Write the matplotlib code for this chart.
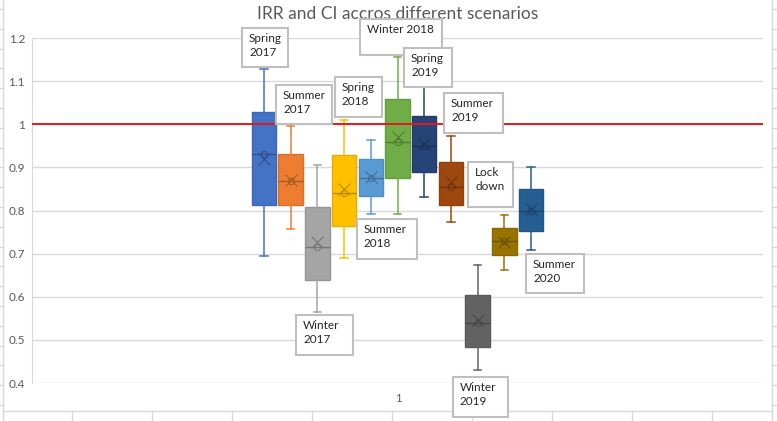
import numpy as np
import matplotlib
matplotlib.use("Agg")
import matplotlib.pyplot as plt
from matplotlib.patches import Rectangle
from matplotlib.lines import Line2D
from matplotlib.colors import to_rgb

plt.rcParams["font.family"] = ["Lato", "DejaVu Sans"]

W, H = 777, 421

# ---------------------------------------------------------------- data
scenarios = ["Spring 2017", "Summer 2017", "Winter 2017", "Spring 2018",
             "Summer 2018", "Winter 2018", "Spring 2019", "Summer 2019",
             "Winter 2019", "Lock down", "Summer 2020"]
whis_lo = [0.694, 0.756, 0.564, 0.691, 0.791, 0.793, 0.831, 0.773, 0.429, 0.661, 0.708]
q1      = [0.812, 0.812, 0.638, 0.763, 0.833, 0.875, 0.889, 0.812, 0.483, 0.696, 0.752]
median  = [0.930, 0.868, 0.715, 0.840, 0.875, 0.958, 0.949, 0.854, 0.538, 0.729, 0.800]
q3      = [1.028, 0.930, 0.807, 0.928, 0.919, 1.058, 1.019, 0.912, 0.605, 0.759, 0.851]
whis_hi = [1.128, 0.995, 0.905, 1.010, 0.963, 1.155, 1.086, 0.972, 0.673, 0.789, 0.900]
mean    = [0.919, 0.870, 0.726, 0.849, 0.877, 0.970, 0.954, 0.865, 0.545, 0.726, 0.803]
colors  = ["#4472C4", "#ED7D31", "#A5A5A5", "#FFC000", "#5B9BD5", "#70AD47",
           "#264478", "#9E480E", "#636363", "#997300", "#255E91"]
threshold = 1.0
category = "1"
y_ticks = [0.4, 0.5, 0.6, 0.7, 0.8, 0.9, 1.0, 1.1, 1.2]
y_labels = ["0.4", "0.5", "0.6", "0.7", "0.8", "0.9", "1", "1.1", "1.2"]

# callout labels: text, box in pixel coords (x0, y0, x1, y1)
callouts = [
    ("Spring\n2017", (242, 28, 288, 67)),
    ("Summer\n2017", (276, 85, 332, 124)),
    ("Winter\n2017", (296, 315, 353, 355)),
    ("Spring\n2018", (335, 77, 382, 117)),
    ("Summer\n2018", (357, 219, 417, 259)),
    ("Winter 2018", (360, 19, 442, 55)),
    ("Spring\n2019", (404, 48, 452, 87)),
    ("Summer\n2019", (444, 93, 503, 133)),
    ("Winter\n2019", (453, 377, 508, 417)),
    ("Lock\ndown", (468, 162, 513, 207)),
    ("Summer\n2020", (526, 254, 584, 293)),
]


def px(x, y):
    return x / W, 1 - y / H


def shade(c, f):
    r, g, b = to_rgb(c)
    return (r * f, g * f, b * f)


fig = plt.figure(figsize=(W / 100, H / 100), dpi=100)
fig.patch.set_facecolor("white")

# outer chart frame (partly cropped in the reference)
frame_c = "#D9D9D9"
fig.add_artist(Line2D([3 / W, 3 / W], [0, 1], color=frame_c, lw=1))
fig.add_artist(Line2D([772 / W, 772 / W], [0, 1], color=frame_c, lw=1))
fig.add_artist(Line2D([3 / W, 772 / W], [1 - 411 / H] * 2, color=frame_c, lw=1))
for yy in np.arange(9, 411, 19.8):
    fig.add_artist(Line2D([0, 3 / W], [1 - yy / H] * 2, color=frame_c, lw=1))
    fig.add_artist(Line2D([772 / W, 776 / W], [1 - yy / H] * 2, color=frame_c, lw=1))
for xx in range(72, 760, 80):
    fig.add_artist(Line2D([xx / W] * 2, [0, 1 - 411 / H], color=frame_c, lw=1))

ax = fig.add_axes([32 / W, 1 - 383 / H, (763 - 32) / W, (383 - 38) / H])
n = len(scenarios)
pos = np.arange(n)
half = 13.69
ax.set_xlim((n - 1) / 2 - half, (n - 1) / 2 + half)
ax.set_ylim(0.4, 1.2)

stats = [dict(whislo=whis_lo[i], q1=q1[i], med=median[i], q3=q3[i],
              whishi=whis_hi[i], mean=mean[i], fliers=[]) for i in range(n)]
bp = ax.bxp(stats, positions=pos, widths=0.92, patch_artist=True,
            showmeans=False, showfliers=False, zorder=3)
for i, c in enumerate(colors):
    bp["boxes"][i].set(facecolor=c, edgecolor=shade(c, 0.9), lw=1)
    bp["medians"][i].set(color=shade(c, 0.72), lw=1)
    for w in bp["whiskers"][2 * i:2 * i + 2]:
        w.set(color=c, lw=1.1)
    for cp in bp["caps"][2 * i:2 * i + 2]:
        cp.set(color=c, lw=1.1)
        m = np.mean(cp.get_xdata())
        cp.set_xdata([m - 0.14, m + 0.14])
    ax.plot(pos[i], mean[i], marker="x", ms=8, mew=0.8, color=shade(c, 0.72), zorder=5)
    ax.plot(pos[i], median[i], marker="o", ms=4.5, mfc="none", mew=0.8,
            color=shade(c, 0.72), zorder=5)

ax.axhline(threshold, color="#E31A1C", lw=1.4, zorder=4)

ax.set_yticks(y_ticks, y_labels)
ax.set_xticks([])
ax.tick_params(axis="y", length=0, pad=5, labelsize=8.5, labelcolor="#595959")
ax.grid(axis="y", color="#D9D9D9", lw=1)
ax.set_axisbelow(True)
for s in ["top", "right", "bottom"]:
    ax.spines[s].set_visible(False)
ax.spines["left"].set_color("#D9D9D9")

fig.text(*px(398, 398), category, ha="center", va="center", fontsize=8, color="#595959")
fig.text(*px(398, 14), "IRR and CI accros different scenarios", ha="center",
         va="center", fontsize=12.5, color="#595959")

for txt, (x0, y0, x1, y1) in callouts:
    fx0, fy1 = px(x0, y1)
    fx1, fy0 = px(x1, y0)
    fig.add_artist(Rectangle((fx0, fy1), fx1 - fx0, fy0 - fy1, transform=fig.transFigure,
                             facecolor="white", edgecolor="#BFBFBF", lw=1.5, zorder=10))
    fig.text(*px(x0 + 7, y0 + 5), txt, ha="left", va="top", fontsize=8.5,
             color="#262626", linespacing=1.3, zorder=11)

fig.savefig("out.png", dpi=100)
